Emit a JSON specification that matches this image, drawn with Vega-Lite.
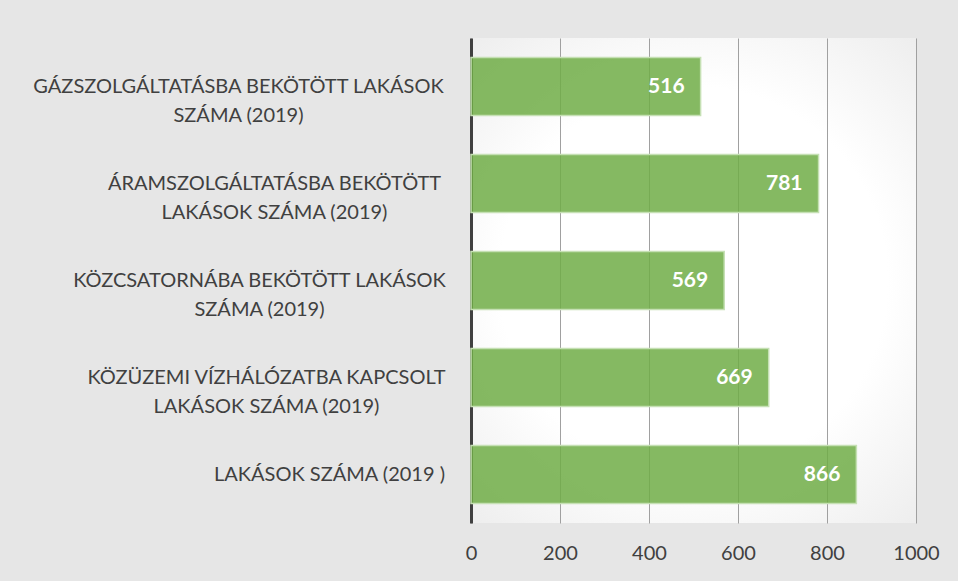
{
  "$schema": "https://vega.github.io/schema/vega-lite/v6.json",
  "autosize": "none",
  "width": 445,
  "height": 485,
  "padding": {"left": 471, "top": 38, "right": 42, "bottom": 58},
  "background": "#e6e6e6",
  "view": {
    "stroke": null,
    "fill": {
      "gradient": "radial",
      "x1": 0.5, "y1": 0.5, "r1": 0,
      "x2": 0.5, "y2": 0.5, "r2": 0.8,
      "stops": [
        {"offset": 0, "color": "#ffffff"},
        {"offset": 0.5, "color": "#ffffff"},
        {"offset": 1, "color": "#e6e6e6"}
      ]
    }
  },
  "data": {
    "values": [
      {"cat": "GÁZSZOLGÁLTATÁSBA BEKÖTÖTT LAKÁSOK|SZÁMA (2019)", "value": 516},
      {"cat": "ÁRAMSZOLGÁLTATÁSBA BEKÖTÖTT|LAKÁSOK SZÁMA (2019)", "value": 781},
      {"cat": "KÖZCSATORNÁBA BEKÖTÖTT LAKÁSOK|SZÁMA (2019)", "value": 569},
      {"cat": "KÖZÜZEMI VÍZHÁLÓZATBA KAPCSOLT|LAKÁSOK SZÁMA (2019)", "value": 669},
      {"cat": "LAKÁSOK SZÁMA (2019 )", "value": 866}
    ]
  },
  "encoding": {
    "y": {
      "field": "cat",
      "type": "nominal",
      "sort": null,
      "title": null,
      "scale": {"paddingInner": 0.4, "paddingOuter": 0.2},
      "axis": {
        "labelExpr": "split(datum.value, '|')",
        "labelFont": "Lato",
        "labelFontSize": 20,
        "labelColor": "#404040",
        "labelLineHeight": 29,
        "labelLimit": 600,
        "labelAlign": "center",
        "labelBaseline": "middle",
        "labelPadding": {
          "condition": [
            {"test": "datum.index == 0", "value": 233},
            {"test": "datum.index > 0.2 && datum.index < 0.3", "value": 197},
            {"test": "datum.index > 0.45 && datum.index < 0.55", "value": 212},
            {"test": "datum.index > 0.7 && datum.index < 0.8", "value": 205}
          ],
          "value": 142
        },
        "ticks": false,
        "grid": false,
        "domain": true,
        "domainColor": "#404040",
        "domainWidth": 3
      }
    },
    "x": {
      "field": "value",
      "type": "quantitative",
      "title": null,
      "scale": {"domain": [0, 1000], "nice": false},
      "axis": {
        "values": [0, 200, 400, 600, 800, 1000],
        "format": "d",
        "grid": true,
        "gridColor": "#a0a0a0",
        "gridWidth": 1,
        "domain": false,
        "ticks": false,
        "labelFont": "Lato",
        "labelFontSize": 20,
        "labelColor": "#404040",
        "labelPadding": 20,
        "labelFlush": false
      }
    }
  },
  "layer": [
    {
      "mark": {
        "type": "bar",
        "color": "#70ad47",
        "fillOpacity": 0.85,
        "stroke": "#c5e0b4",
        "strokeWidth": 1.5
      }
    },
    {
      "mark": {
        "type": "text",
        "align": "right",
        "baseline": "middle",
        "dx": -16,
        "font": "Lato",
        "fontWeight": "bold",
        "fontSize": 21,
        "color": "#ffffff"
      },
      "encoding": {"text": {"field": "value", "type": "quantitative"}}
    }
  ]
}
